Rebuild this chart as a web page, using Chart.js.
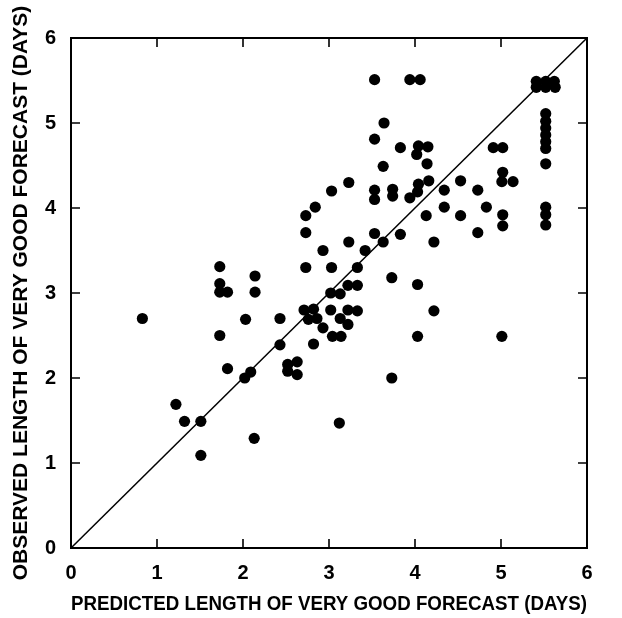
<!DOCTYPE html>
<html>
<head>
<meta charset="utf-8">
<script src="https://cdn.jsdelivr.net/npm/chart.js@4.4.0/dist/chart.umd.min.js"></script>
<style>
  html, body { margin: 0; padding: 0; background: #fff; }
  #wrap { width: 622px; height: 618px; }
</style>
</head>
<body>
<div id="wrap"><canvas id="chart" width="622" height="618"></canvas></div>
<script>
// predicted vs observed length of very good forecast
const predicted = [
  0.83, 1.22, 1.32, 1.51, 1.51, 1.73, 1.73, 1.73, 1.82, 1.73, 1.82, 2.14, 2.14, 2.03, 2.02, 2.09, 2.13,
  2.43, 2.43, 2.52, 2.63, 2.52, 2.63, 2.73, 2.84, 2.73, 2.73, 2.93, 3.03, 3.03, 3.23, 3.23, 3.42, 3.33,
  3.22, 3.33, 3.02, 3.13, 2.71, 2.82, 2.76, 2.86, 2.93, 2.82, 3.02, 3.13, 3.22, 3.33, 3.22, 3.04, 3.14,
  3.12, 3.53, 3.94, 4.06, 3.64, 3.53, 3.83, 4.04, 4.15, 4.02, 4.14, 3.63, 3.53, 3.53, 3.74, 3.74, 3.94,
  4.04, 4.03, 4.16, 4.34, 4.53, 4.73, 4.34, 4.13, 4.53, 4.83, 4.73, 3.53, 3.63, 3.83, 4.22, 3.73, 4.03,
  4.22, 4.03, 3.73, 4.91, 5.02, 5.02, 5.01, 5.14, 5.02, 5.02, 5.01,
  5.41, 5.52, 5.62, 5.41, 5.52, 5.63,
  5.52, 5.52, 5.52, 5.52, 5.52, 5.52, 5.52, 5.52, 5.52, 5.52
];
const observed = [
  2.70, 1.69, 1.49, 1.49, 1.09, 3.31, 3.11, 3.01, 3.01, 2.50, 2.11, 3.20, 3.01, 2.69, 2.00, 2.07, 1.29,
  2.70, 2.39, 2.16, 2.19, 2.08, 2.04, 3.91, 4.01, 3.71, 3.30, 3.50, 3.30, 4.20, 4.30, 3.60, 3.50, 3.30,
  3.09, 3.09, 3.00, 2.99, 2.80, 2.81, 2.69, 2.70, 2.59, 2.40, 2.80, 2.70, 2.80, 2.79, 2.63, 2.49, 2.49,
  1.47, 5.51, 5.51, 5.51, 5.00, 4.81, 4.71, 4.73, 4.72, 4.63, 4.52, 4.49, 4.21, 4.10, 4.22, 4.14, 4.12,
  4.28, 4.19, 4.32, 4.21, 4.32, 4.21, 4.01, 3.91, 3.91, 4.01, 3.71, 3.70, 3.60, 3.69, 3.60, 3.18, 3.10,
  2.79, 2.49, 2.00, 4.71, 4.71, 4.42, 4.31, 4.31, 3.92, 3.79, 2.49,
  5.49, 5.49, 5.49, 5.42, 5.42, 5.42,
  5.11, 5.02, 4.94, 4.86, 4.78, 4.70, 4.52, 4.01, 3.92, 3.80
];
const perfectLine = [0, 6];
const axisTicks = [0, 1, 2, 3, 4, 5, 6];

const xTitle = 'PREDICTED LENGTH OF VERY GOOD FORECAST (DAYS)';
const yTitle = 'OBSERVED LENGTH OF VERY GOOD FORECAST (DAYS)';

const points = predicted.map((x, i) => ({ x, y: observed[i] }));
const diagonal = perfectLine.map((v) => ({ x: v, y: v }));

// box round the plot with short ticks pointing inwards on all four sides
const framePlugin = {
  id: 'frame',
  afterDatasetsDraw(chart) {
    const { ctx, chartArea: a, scales } = chart;
    const len = 9;
    ctx.save();
    ctx.strokeStyle = '#000';
    ctx.lineWidth = 2;
    ctx.strokeRect(a.left, a.top, a.right - a.left, a.bottom - a.top);
    ctx.lineWidth = 1.6;
    ctx.beginPath();
    axisTicks.slice(1, -1).forEach((t) => {
      const px = scales.x.getPixelForValue(t);
      const py = scales.y.getPixelForValue(t);
      ctx.moveTo(px, a.bottom); ctx.lineTo(px, a.bottom - len);
      ctx.moveTo(px, a.top); ctx.lineTo(px, a.top + len);
      ctx.moveTo(a.left, py); ctx.lineTo(a.left + len, py);
      ctx.moveTo(a.right, py); ctx.lineTo(a.right - len, py);
    });
    ctx.stroke();
    ctx.restore();
  }
};

const tickFont = { family: '"Liberation Sans", Arial, sans-serif', size: 20, weight: 'bold' };

new Chart(document.getElementById('chart'), {
  type: 'scatter',
  data: {
    datasets: [
      {
        data: points,
        pointRadius: 5.6,
        pointHoverRadius: 5.6,
        pointBackgroundColor: '#000',
        pointBorderWidth: 0,
        order: 1
      },
      {
        type: 'line',
        data: diagonal,
        borderColor: '#000',
        borderWidth: 1.5,
        pointRadius: 0,
        fill: false,
        order: 2
      }
    ]
  },
  options: {
    responsive: false,
    animation: false,
    events: [],
    layout: { padding: { top: 38, right: 35, left: 0, bottom: 0 } },
    plugins: { legend: { display: false }, tooltip: { enabled: false } },
    scales: {
      x: {
        type: 'linear',
        min: 0,
        max: 6,
        afterFit: (scale) => { scale.height = 70; },
        afterBuildTicks: (scale) => { scale.ticks = axisTicks.map((v) => ({ value: v })); },
        grid: { display: false, drawTicks: false },
        border: { display: false },
        ticks: { color: '#000', font: tickFont, padding: 13, maxRotation: 0 },
        title: {
          display: true,
          text: xTitle,
          color: '#000',
          font: { family: '"Liberation Sans", Arial, sans-serif', size: 19.5, weight: 'bold' },
          padding: { top: 0, bottom: 2 }
        }
      },
      y: {
        type: 'linear',
        min: 0,
        max: 6,
        afterFit: (scale) => { scale.width = 71; },
        afterBuildTicks: (scale) => { scale.ticks = axisTicks.map((v) => ({ value: v })); },
        grid: { display: false, drawTicks: false },
        border: { display: false },
        ticks: { color: '#000', font: tickFont, padding: 15 },
        title: {
          display: true,
          text: yTitle,
          color: '#000',
          font: { family: '"Liberation Sans", Arial, sans-serif', size: 21, weight: 'bold' },
          padding: { top: 9, bottom: 0 }
        }
      }
    }
  },
  plugins: [framePlugin]
});
</script>
</body>
</html>
